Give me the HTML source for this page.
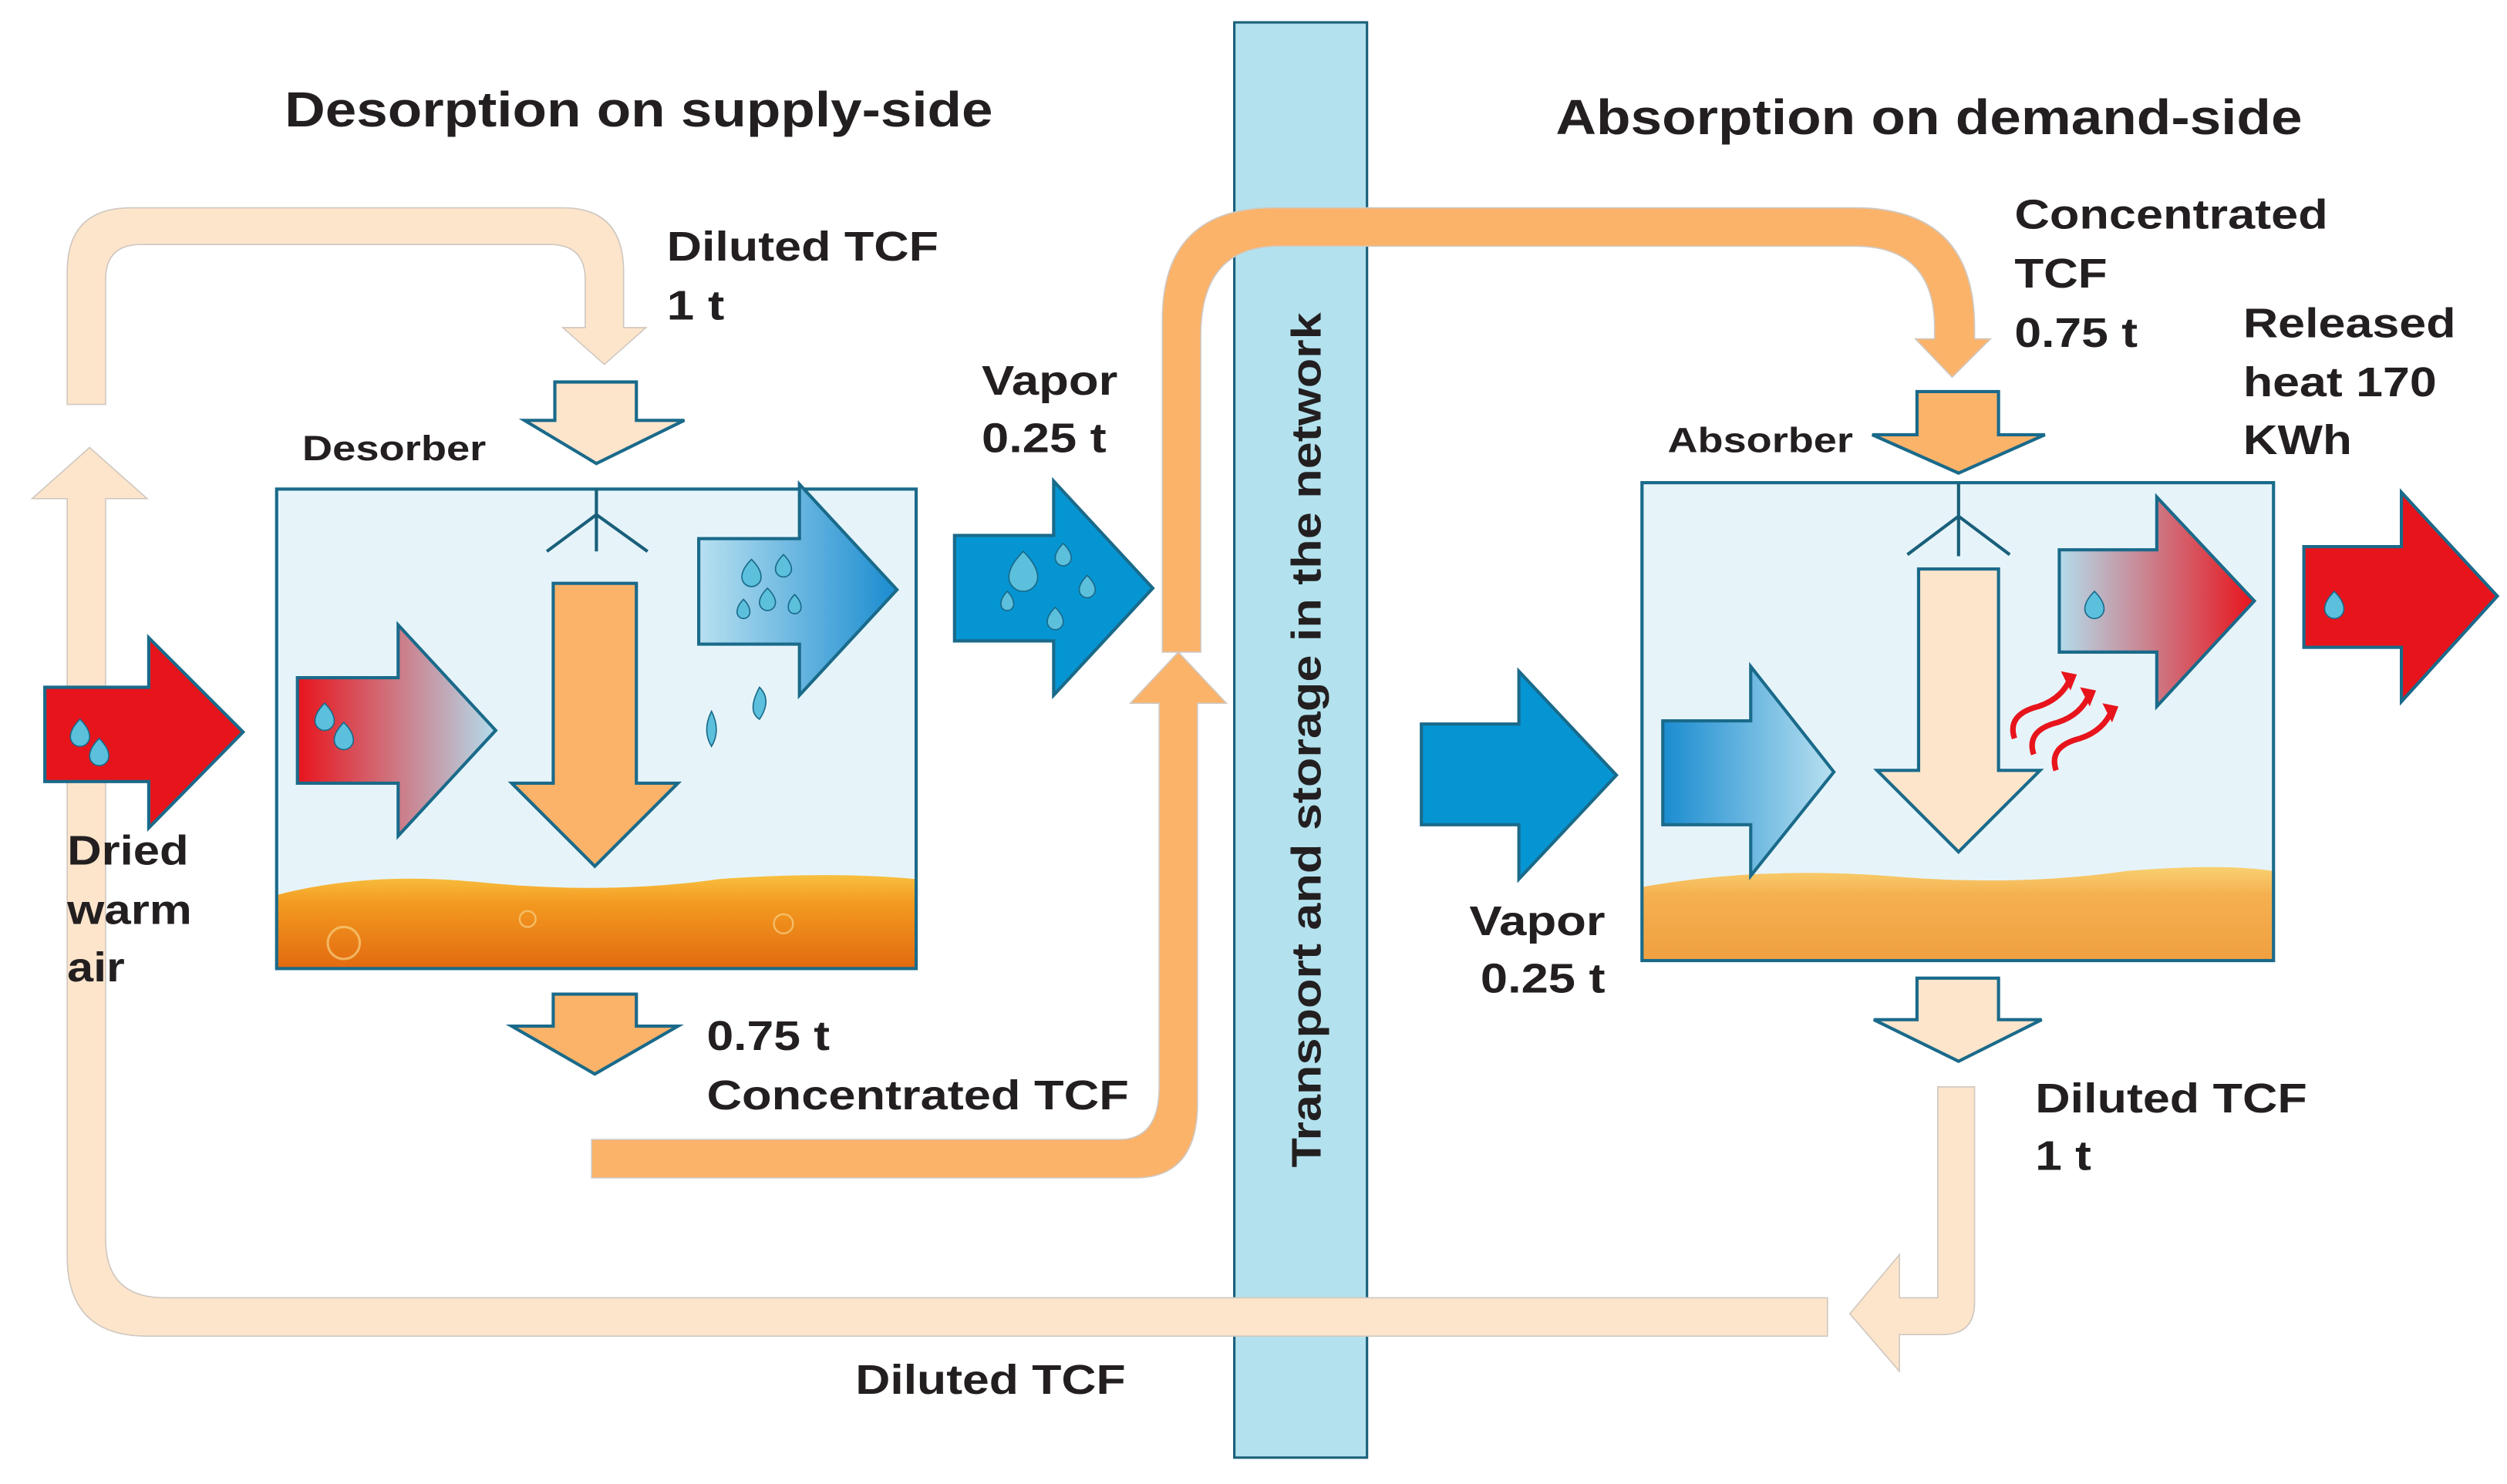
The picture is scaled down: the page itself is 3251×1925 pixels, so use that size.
<!DOCTYPE html>
<html><head><meta charset="utf-8"><style>
html,body{margin:0;padding:0;background:#fff;}
svg{display:block;}
text{font-family:"Liberation Sans",Arial,sans-serif;font-weight:bold;fill:#231f20;}
</style></head><body>
<svg width="3251" height="1925" viewBox="0 0 1568 928.5" xmlns="http://www.w3.org/2000/svg">
<defs>
<linearGradient id="redblue" x1="0" x2="1" y1="0" y2="0"><stop offset="0" stop-color="#e8141c"/><stop offset="1" stop-color="#b3dcec"/></linearGradient>
<linearGradient id="bluered" x1="0" x2="1" y1="0" y2="0"><stop offset="0" stop-color="#b3dcec"/><stop offset="1" stop-color="#e8141c"/></linearGradient>
<linearGradient id="lbdb" x1="0" x2="1" y1="0" y2="0"><stop offset="0" stop-color="#b8e0f0"/><stop offset="1" stop-color="#1a8cd0"/></linearGradient>
<linearGradient id="dblb" x1="0" x2="1" y1="0" y2="0"><stop offset="0" stop-color="#1a8cd0"/><stop offset="1" stop-color="#b8e0f0"/></linearGradient>
<linearGradient id="liq" x1="0" x2="0" y1="0" y2="1"><stop offset="0" stop-color="#f8c040"/><stop offset="0.3" stop-color="#f39a20"/><stop offset="1" stop-color="#e26a10"/></linearGradient>
<linearGradient id="liq2" x1="0" x2="0" y1="0" y2="1"><stop offset="0" stop-color="#f8d070"/><stop offset="0.3" stop-color="#f5b050"/><stop offset="1" stop-color="#f0a040"/></linearGradient>
</defs>

<rect x="772" y="14" width="83" height="898" fill="#b3e2ee" stroke="#1a5f7a" stroke-width="1.5"/>

<text x="178" y="79" font-size="31" textLength="443" lengthAdjust="spacingAndGlyphs">Desorption on supply-side</text>
<text x="973" y="84" font-size="31" textLength="467" lengthAdjust="spacingAndGlyphs">Absorption on demand-side</text>

<path d="M42,253 V170 Q42,130 82,130 H352 Q390,130 390,170 V205 H404 L378,228 L352,205 H366 V175 Q366,153 344,153 H88 Q66,153 66,175 V253 Z" fill="#fde5cc" stroke="#d0c8c0" stroke-width="0.8"/>
<path d="M42,312 H20 L56,280 L92,312 H66 V775 Q66,812 103,812 H1143 V836 H92 Q42,836 42,786 Z" fill="#fde5cc" stroke="#d0c8c0" stroke-width="0.8"/>
<path d="M1212,680 H1235 V815 Q1235,835 1215,835 H1188 V858 L1157,822 L1188,785 V812 H1212 Z" fill="#fde5cc" stroke="#d0c8c0" stroke-width="0.8"/>

<path d="M370,713 H700 Q725,713 725,680 V440 H707 L737,408 L767,440 H749 V690 Q749,737 710,737 H370 Z" fill="#fbb36a" stroke="#d0c8c0" stroke-width="0.8"/>
<path d="M727,408 V200 Q727,130 797,130 H1160 Q1235,130 1235,205 V212 H1245 L1221,236 L1198,212 H1210 V205 Q1210,154 1160,154 H800 Q751,154 751,210 V408 Z" fill="#fbb36a" stroke="#d0c8c0" stroke-width="0.8"/>

<rect x="173" y="306" width="400" height="300" fill="#e6f4fa"/>
<path d="M173,560 Q230,545 300,552 Q380,560 450,550 Q520,545 573,550 V606 H173 Z" fill="url(#liq)"/>
<circle cx="215" cy="590" r="10" fill="none" stroke="#f8d080" stroke-width="1.5" opacity="0.7"/>
<circle cx="330" cy="575" r="5" fill="none" stroke="#f8d080" stroke-width="1.2" opacity="0.7"/>
<circle cx="490" cy="578" r="6" fill="none" stroke="#f8d080" stroke-width="1.2" opacity="0.7"/>
<rect x="173" y="306" width="400" height="300" fill="none" stroke="#1a6a8a" stroke-width="2"/>
<text x="189" y="288" font-size="22" textLength="115" lengthAdjust="spacingAndGlyphs">Desorber</text>

<path d="M347,239 H398 V263 H428 L373,290 L328,263 H347 Z" fill="#fde5cc" stroke="#1a6a8a" stroke-width="2"/>
<path d="M373,306 V345 M373,322 L342,345 M373,322 L405,345" stroke="#1a5f7a" stroke-width="2" fill="none"/>
<path d="M346,365 H398 V490 H424 L372,542 L320,490 H346 Z" fill="#fbb36a" stroke="#1a6a8a" stroke-width="2"/>
<path d="M346,622 H398 V642 H424 L372,672 L320,642 H346 Z" fill="#fbb36a" stroke="#1a6a8a" stroke-width="2"/>

<path d="M28,430 H93 V399 L152,458 L93,518 V489 H28 Z" fill="#e8141c" stroke="#1a6a8a" stroke-width="2"/>
<path d="M186,424 H249 V391 L310,457 L249,523 V490 H186 Z" fill="url(#redblue)" stroke="#1a6a8a" stroke-width="2"/>
<path d="M437,337 H500 V303 L561,369 L500,435 V403 H437 Z" fill="url(#lbdb)" stroke="#1a6a8a" stroke-width="2"/>
<path d="M597,335 H659 V301 L721,368 L659,435 V401 H597 Z" fill="#0595d3" stroke="#1a6a8a" stroke-width="2"/>

<g fill="#5cc0dc" stroke="#1a6a8a" stroke-width="0.8">
<path d="M50,450 q6,6 6,11 a6,6 0 0 1 -12,0 q0,-5 6,-11z"/>
<path d="M62,462 q6,6 6,11 a6,6 0 0 1 -12,0 q0,-5 6,-11z"/>
<path d="M203,440 q6,6 6,11 a6,6 0 0 1 -12,0 q0,-5 6,-11z"/>
<path d="M215,452 q6,6 6,11 a6,6 0 0 1 -12,0 q0,-5 6,-11z"/>
<path d="M470,350 q6,6 6,11 a6,6 0 0 1 -12,0 q0,-5 6,-11z"/>
<path d="M490,347 q5,5 5,9 a5,5 0 0 1 -10,0 q0,-4 5,-9z"/>
<path d="M480,368 q5,5 5,9 a5,5 0 0 1 -10,0 q0,-4 5,-9z"/>
<path d="M497,372 q4,4 4,8 a4,4 0 0 1 -8,0 q0,-4 4,-8z"/>
<path d="M465,375 q4,4 4,8 a4,4 0 0 1 -8,0 q0,-4 4,-8z"/>
<path d="M640,345 q9,9 9,16 a9,9 0 0 1 -18,0 q0,-7 9,-16z"/>
<path d="M665,340 q5,5 5,9 a5,5 0 0 1 -10,0 q0,-4 5,-9z"/>
<path d="M680,360 q5,5 5,9 a5,5 0 0 1 -10,0 q0,-4 5,-9z"/>
<path d="M660,380 q5,5 5,9 a5,5 0 0 1 -10,0 q0,-4 5,-9z"/>
<path d="M630,370 q4,4 4,8 a4,4 0 0 1 -8,0 q0,-4 4,-8z"/>
<path d="M475,430 q8,8 0,20 q-8,-5 0,-20z"/>
<path d="M445,445 q6,12 0,22 q-6,-10 0,-22z"/>
<path d="M1070,465 q6,6 6,11 a6,6 0 0 1 -12,0 q0,-5 6,-11z"/>
<path d="M1088,480 q5,5 5,9 a5,5 0 0 1 -10,0 q0,-4 5,-9z"/>
<path d="M1075,495 q4,4 4,8 a4,4 0 0 1 -8,0 q0,-4 4,-8z"/>
<path d="M1165,510 q8,12 8,20 a8,8 0 0 1 -16,0 q0,-8 8,-20z"/>
<path d="M1150,495 q5,8 5,14 a5,5 0 0 1 -10,0 q0,-6 5,-14z"/>
<path d="M1310,370 q6,6 6,11 a6,6 0 0 1 -12,0 q0,-5 6,-11z"/>
<path d="M1460,370 q6,6 6,11 a6,6 0 0 1 -12,0 q0,-5 6,-11z"/>
<path d="M935,460 q9,9 9,16 a9,9 0 0 1 -18,0 q0,-7 9,-16z"/>
<path d="M960,455 q5,5 5,9 a5,5 0 0 1 -10,0 q0,-4 5,-9z"/>
<path d="M965,480 q5,5 5,9 a5,5 0 0 1 -10,0 q0,-4 5,-9z"/>
<path d="M950,495 q4,4 4,8 a4,4 0 0 1 -8,0 q0,-4 4,-8z"/>
</g>

<g font-size="26">
<text x="417" y="163" textLength="170" lengthAdjust="spacingAndGlyphs">Diluted TCF</text>
<text x="417" y="200" textLength="36" lengthAdjust="spacingAndGlyphs">1 t</text>
<text x="614" y="247" textLength="85" lengthAdjust="spacingAndGlyphs">Vapor</text>
<text x="614" y="283" textLength="78" lengthAdjust="spacingAndGlyphs">0.25 t</text>
<text x="42" y="541" textLength="76" lengthAdjust="spacingAndGlyphs">Dried</text>
<text x="42" y="578" textLength="78" lengthAdjust="spacingAndGlyphs">warm</text>
<text x="42" y="614" textLength="36" lengthAdjust="spacingAndGlyphs">air</text>
<text x="442" y="657" textLength="77" lengthAdjust="spacingAndGlyphs">0.75 t</text>
<text x="442" y="694" textLength="264" lengthAdjust="spacingAndGlyphs">Concentrated TCF</text>
<text x="535" y="872" textLength="169" lengthAdjust="spacingAndGlyphs">Diluted TCF</text>
</g>

<text transform="translate(826,463) rotate(-90)" text-anchor="middle" font-size="26" textLength="535" lengthAdjust="spacingAndGlyphs">Transport and storage in the network</text>

<rect x="1027" y="302" width="395" height="299" fill="#e6f4fa"/>
<path d="M1027,555 Q1100,542 1180,548 Q1260,555 1330,545 Q1390,540 1422,545 V601 H1027 Z" fill="url(#liq2)"/>
<rect x="1027" y="302" width="395" height="299" fill="none" stroke="#1a6a8a" stroke-width="2"/>
<text x="1043" y="283" font-size="22" textLength="116" lengthAdjust="spacingAndGlyphs">Absorber</text>

<path d="M1199,245 H1250 V272 H1279 L1225,296 L1171,272 H1199 Z" fill="#fbb36a" stroke="#1a6a8a" stroke-width="2"/>
<path d="M1225,302 V348 M1225,323 L1193,347 M1225,323 L1257,347" stroke="#1a5f7a" stroke-width="2" fill="none"/>
<path d="M1200,356 H1250 V482 H1276 L1225,533 L1174,482 H1200 Z" fill="#fde5cc" stroke="#1a6a8a" stroke-width="2"/>
<path d="M1199,612 H1250 V638 H1277 L1225,664 L1172,638 H1199 Z" fill="#fde5cc" stroke="#1a6a8a" stroke-width="2"/>

<path d="M1288,344 H1349 V311 L1410,376 L1349,442 V408 H1288 Z" fill="url(#bluered)" stroke="#1a6a8a" stroke-width="2"/>
<path d="M1441,342 H1502 V308 L1562,373 L1502,439 V405 H1441 Z" fill="#e8141c" stroke="#1a6a8a" stroke-width="2"/>
<path d="M889,453 H950 V420 L1011,485 L950,550 V516 H889 Z" fill="#0595d3" stroke="#1a6a8a" stroke-width="2"/>
<path d="M1040,451 H1095 V417 L1147,483 L1095,548 V516 H1040 Z" fill="url(#dblb)" stroke="#1a6a8a" stroke-width="2"/>

<g fill="#5cc0dc" stroke="#1a6a8a" stroke-width="0.8">
<path d="M1310,370 q6,6 6,11 a6,6 0 0 1 -12,0 q0,-5 6,-11z"/>
<path d="M1460,370 q6,6 6,11 a6,6 0 0 1 -12,0 q0,-5 6,-11z"/>
</g>

<g stroke="#e8141c" stroke-width="3.5" fill="none">
<path d="M1260,462 q-5,-15 15,-20 q15,-5 20,-18"/>
<path d="M1272,472 q-5,-15 15,-20 q15,-5 20,-18"/>
<path d="M1286,482 q-5,-15 15,-20 q15,-5 20,-18"/>
</g>
<g fill="#e8141c">
<path d="M1289,420 l10,2 l-4,10z"/><path d="M1301,430 l10,2 l-4,10z"/><path d="M1315,440 l10,2 l-4,10z"/>
</g>

<g font-size="26">
<text x="1260" y="143" textLength="196" lengthAdjust="spacingAndGlyphs">Concentrated</text>
<text x="1260" y="180" textLength="58" lengthAdjust="spacingAndGlyphs">TCF</text>
<text x="1260" y="217" textLength="77" lengthAdjust="spacingAndGlyphs">0.75 t</text>
<text x="1403" y="211" textLength="133" lengthAdjust="spacingAndGlyphs">Released</text>
<text x="1403" y="248" textLength="121" lengthAdjust="spacingAndGlyphs">heat 170</text>
<text x="1403" y="284" textLength="68" lengthAdjust="spacingAndGlyphs">KWh</text>
<text x="919" y="585" textLength="85" lengthAdjust="spacingAndGlyphs">Vapor</text>
<text x="926" y="621" textLength="78" lengthAdjust="spacingAndGlyphs">0.25 t</text>
<text x="1273" y="696" textLength="170" lengthAdjust="spacingAndGlyphs">Diluted TCF</text>
<text x="1273" y="732" textLength="35" lengthAdjust="spacingAndGlyphs">1 t</text>
</g>
</svg>
</body></html>
